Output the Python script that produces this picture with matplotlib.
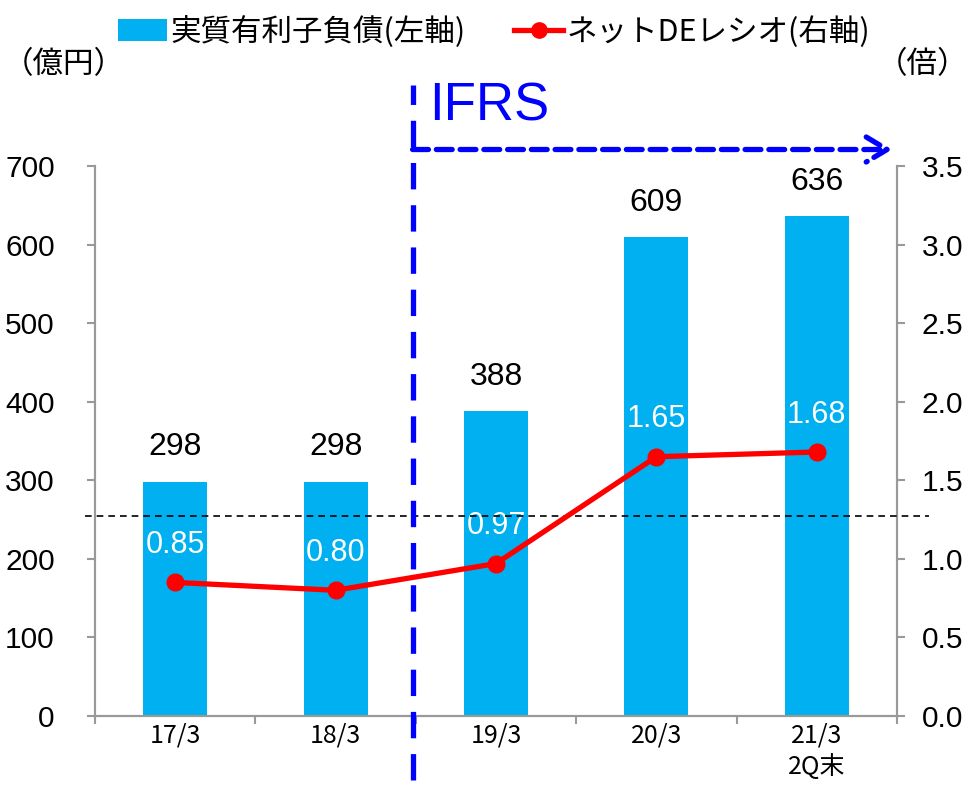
import matplotlib
matplotlib.use("Agg")
import matplotlib.pyplot as plt
import matplotlib.transforms as mtransforms
from matplotlib.lines import Line2D
from matplotlib.patches import Patch

categories = ["17/3", "18/3", "19/3", "20/3", "21/3\n2Q末"]
net_debt = [298, 298, 388, 609, 636]
de_ratio = [0.85, 0.80, 0.97, 1.65, 1.68]
de_ref = 1.27
ifrs_start = 1.5

left_ticks = [0, 100, 200, 300, 400, 500, 600, 700]
right_ticks = [0.0, 0.5, 1.0, 1.5, 2.0, 2.5, 3.0, 3.5]

JP = ["Noto Sans CJK JP", "DejaVu Sans"]
NUM = ["Liberation Sans", "DejaVu Sans"]
BAR_C = "#00B0F0"
LINE_C = "#FF0000"
AX_C = "#999999"

fig = plt.figure(figsize=(9.69, 7.88), dpi=100)
ax = fig.add_axes([95 / 969, 72 / 788, 802 / 969, 550 / 788])
ax2 = ax.twinx()

x = list(range(len(categories)))
ax.bar(x, net_debt, width=0.4, color=BAR_C, zorder=2)
ax.set_xlim(-0.5, len(categories) - 0.5)
ax.set_ylim(0, 700)
ax.set_yticks(left_ticks)
ax.set_yticklabels([str(v) for v in left_ticks], fontfamily=NUM, fontsize=21.5)

for xi, v in zip(x, net_debt):
    ax.annotate(str(v), (xi, v), xytext=(0, 14), textcoords="offset points",
                ha="center", va="bottom", fontsize=23, fontfamily=NUM, color="black")

# category boundaries as ticks, names as minor ticks
ax.set_xticks([i - 0.5 for i in range(len(categories) + 1)])
ax.set_xticklabels([])
ax.set_xticks(x, minor=True)
ax.set_xticklabels(categories, minor=True, fontfamily=JP, fontsize=18, linespacing=1.25)
ax.tick_params(axis="x", which="major", length=6, width=1.5, color=AX_C, direction="out")
ax.tick_params(axis="x", which="minor", length=0, pad=5)
ax.tick_params(axis="y", length=6, width=1.5, color=AX_C, pad=23)

ax2.set_ylim(0, 3.5)
ax2.set_yticks(right_ticks)
ax2.set_yticklabels([f"{v:.1f}" for v in right_ticks], fontfamily=NUM, fontsize=21.5)
ax2.tick_params(axis="y", length=6, width=1.5, color=AX_C, pad=12)

ax2.plot(x, de_ratio, color=LINE_C, lw=3.8, marker="o", ms=12, zorder=4)
for xi, v in zip(x, de_ratio):
    ax2.annotate(f"{v:.2f}", (xi, v), xytext=(0, 16), textcoords="offset points",
                 ha="center", va="bottom", fontsize=22, fontfamily=NUM, color="white")

# reference dashed line
trans2 = mtransforms.blended_transform_factory(ax2.transAxes, ax2.transData)
ax2.plot([-0.012, 1.04], [de_ref, de_ref], transform=trans2, color="black",
         lw=1.2, ls=(0, (4, 3)), clip_on=False, zorder=3)

for a in (ax, ax2):
    a.spines["top"].set_visible(False)
    for s in ("left", "right", "bottom"):
        a.spines[s].set_color(AX_C)
        a.spines[s].set_linewidth(1.5)
ax2.patch.set_visible(False)

# IFRS marker
transv = mtransforms.blended_transform_factory(ax.transData, ax.transAxes)
ax2.plot([ifrs_start - 0.02, ifrs_start - 0.02], [-0.117, 1.148], transform=transv, color="#0000FF",
         lw=3.8, ls=(0, (5, 3)), clip_on=False, zorder=5)
ax2.annotate("", xy=(4.47, 1.03), xytext=(ifrs_start - 0.02, 1.03), xycoords=transv,
             textcoords=transv,
             arrowprops=dict(arrowstyle="->,head_length=0.5,head_width=0.3", color="#0000FF",
                             lw=3.8, ls=(0, (3, 1.5)), mutation_scale=30, shrinkA=0, shrinkB=0),
             zorder=5)
ax2.text(ifrs_start + 0.08, 1.063, "IFRS", transform=transv, color="#0000FF",
         fontsize=38, fontfamily=NUM, ha="left", va="bottom")

# unit labels
fig.text(3 / 969, 1 - 73 / 788, "（億円）", fontfamily=JP, fontsize=22, ha="left", va="baseline")
fig.text(968 / 969, 1 - 73 / 788, "（倍）", fontfamily=JP, fontsize=22, ha="right", va="baseline")

handles = [Patch(facecolor=BAR_C, edgecolor="none"),
           Line2D([], [], color=LINE_C, lw=3.8, marker="o", ms=11)]
fig.legend(handles, ["実質有利子負債(左軸)", "ネットDEレシオ(右軸)"], loc="upper center",
           bbox_to_anchor=(0.51, 1.015), ncol=2, frameon=False,
           prop={"family": JP, "size": 22}, handlelength=1.6, handletextpad=0.1,
           columnspacing=1.6)

fig.savefig("out.png", dpi=100)
